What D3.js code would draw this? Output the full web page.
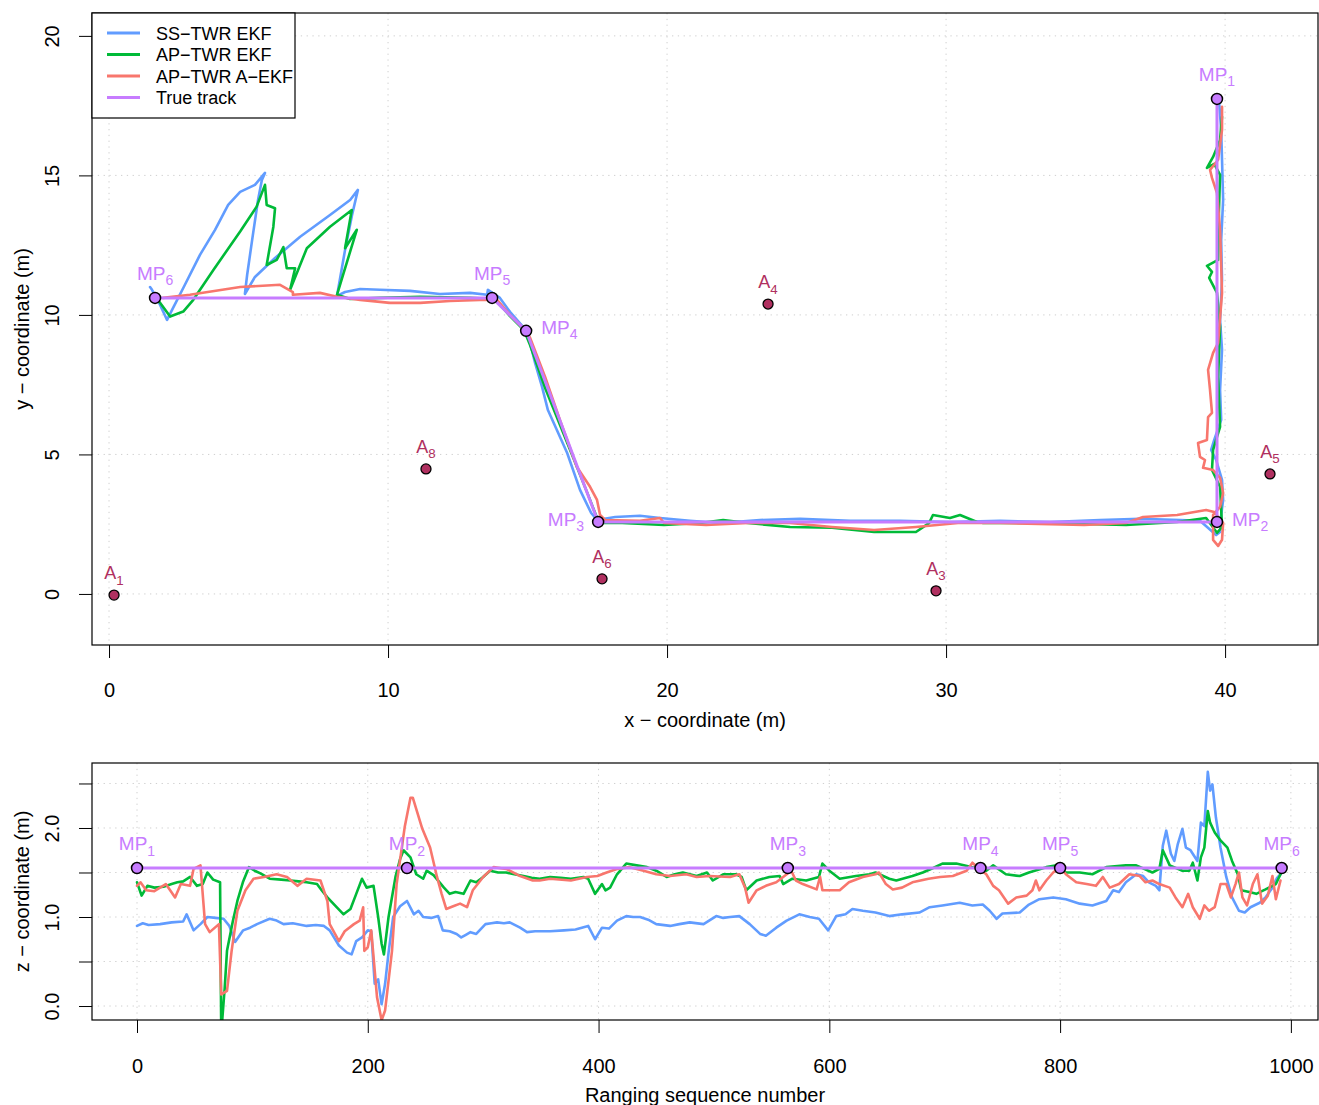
<!DOCTYPE html>
<html>
<head>
<meta charset="utf-8">
<script src="https://cdn.jsdelivr.net/npm/d3@7"></script>
<style>
  body { margin: 0; background: #fff; }
  svg { display: block; font-family: "Liberation Sans", Arial, Helvetica, sans-serif; }
</style>
</head>
<body>
<svg id="chart" width="1319" height="1105"></svg>
<script>
// series names and colours
const seriesNames = ["SS\u2212TWR EKF", "AP\u2212TWR EKF", "AP\u2212TWR A\u2212EKF", "True track"];
const seriesColors = ["#619CFF", "#00BA38", "#F8766D", "#C77CFF"];

// anchors (x, y in m)
const anchorNames = ["1", "3", "4", "5", "6", "8"];
const anchorX = [0.18, 29.64, 23.62, 41.61, 17.67, 11.36];
const anchorY = [-0.04, 0.11, 10.39, 4.30, 0.54, 4.48];

// measurement points of the true track
const mpNames = ["1", "2", "3", "4", "5", "6"];
const mpX = [39.71, 39.71, 17.53, 14.95, 13.73, 1.65];
const mpY = [17.74, 2.58, 2.58, 9.43, 10.61, 10.61];
const mpSeq = [0, 234, 564, 731, 800, 992];
const trueZ = 1.55;

// ticks
const xTicks = [0, 10, 20, 30, 40];
const yTicks = [0, 5, 10, 15, 20];
const seqTicks = [0, 200, 400, 600, 800, 1000];
const zTicks = [0, 0.5, 1, 1.5, 2, 2.5];
const zLabels = ["0.0", "", "1.0", "", "2.0", ""];

// estimated tracks in the x-y plane
const ssEkfXY = [
  [39.78,17.71],[39.86,16.63],[39.89,15.56],[39.93,14.12],[39.86,12.69],[39.89,11.25],[39.82,9.82],
  [39.89,8.75],[39.82,7.31],[39.86,6.24],[39.61,5.52],[39.50,5.16],[39.68,4.80],[39.89,4.09],
  [39.93,3.37],[39.86,2.83],[39.82,2.22],[39.68,2.11],[39.10,2.62],[38.39,2.65],[36.95,2.69],
  [35.52,2.65],[33.73,2.58],[31.94,2.62],[30.14,2.58],[28.35,2.62],[26.56,2.62],[24.77,2.69],
  [23.33,2.65],[21.90,2.54],[20.82,2.62],[19.75,2.72],[19.03,2.80],[18.14,2.76],[17.49,2.65],
  [17.28,2.90],[16.88,3.73],[16.42,5.05],[15.73,6.59],[15.52,7.42],[15.27,8.28],[15.02,9.28],
  [14.84,9.57],[14.37,10.11],[14.01,10.61],[13.58,10.90],[13.55,10.72],[12.94,10.79],[11.86,10.75],
  [10.79,10.86],[9.71,10.90],[9.00,10.93],[8.46,10.82],[8.17,10.68],[8.46,12.33],[8.71,13.58],
  [8.92,14.48],[8.64,14.12],[7.92,13.58],[6.85,12.80],[5.95,12.04],[5.23,11.36],[4.87,10.75],
  [4.95,11.43],[5.13,12.69],[5.34,14.12],[5.48,14.84],[5.59,15.09],[5.23,14.66],[4.70,14.41],
  [4.27,13.94],[3.80,13.05],[3.26,12.15],[2.72,11.08],[2.26,10.18],[2.08,9.82],[1.83,10.36],
  [1.54,10.90],[1.47,11.00]
];
const apEkfXY = [
  [39.89,17.10],[39.82,16.27],[39.57,15.66],[39.35,15.27],[39.61,15.41],[39.82,15.02],[39.78,13.76],
  [39.75,11.97],[39.35,11.76],[39.53,11.54],[39.43,11.33],[39.71,10.79],[39.82,9.57],[39.75,7.78],
  [39.82,5.99],[39.57,5.16],[39.53,4.44],[39.82,3.84],[39.89,2.40],[39.71,2.19],[39.32,2.72],
  [38.28,2.58],[36.45,2.47],[33.44,2.54],[31.33,2.54],[31.11,2.58],[30.50,2.83],[30.14,2.72],
  [29.53,2.83],[29.39,2.54],[28.92,2.22],[27.42,2.22],[25.91,2.37],[24.41,2.40],[22.90,2.54],
  [22.01,2.65],[21.18,2.54],[19.89,2.47],[18.39,2.54],[17.63,2.54],[17.46,2.80],[17.17,3.55],
  [16.70,4.73],[16.16,6.06],[15.63,7.38],[15.09,8.92],[14.87,9.46],[14.37,9.96],[13.84,10.57],
  [12.94,10.61],[11.15,10.65],[9.71,10.61],[8.64,10.57],[8.17,10.72],[8.88,13.05],[8.46,12.39],
  [8.70,13.76],[7.92,13.16],[7.09,12.39],[6.49,10.90],[6.67,11.67],[6.37,11.67],[6.25,12.43],
  [6.01,11.97],[5.65,11.79],[5.89,13.16],[5.95,13.82],[5.65,13.94],[5.59,14.66],[5.29,13.88],
  [4.70,12.99],[3.74,11.61],[3.02,10.54],[2.66,10.12],[2.19,9.94],[1.71,10.60]
];
const apAekfXY = [
  [39.89,17.46],[39.89,16.63],[39.75,15.56],[39.46,15.20],[39.53,14.91],[39.71,14.37],[39.82,13.05],
  [39.89,10.79],[39.75,9.00],[39.57,8.64],[39.39,8.03],[39.46,7.31],[39.53,6.49],[39.39,6.34],
  [39.35,5.52],[39.03,5.41],[39.10,4.91],[39.28,4.80],[39.21,4.52],[39.57,4.44],[39.82,4.16],
  [39.93,3.62],[39.82,3.12],[39.57,2.83],[39.57,1.94],[39.75,1.72],[39.89,1.94],[39.93,2.54],
  [39.61,2.94],[39.32,3.01],[38.28,2.83],[37.06,2.76],[36.45,2.54],[34.95,2.47],[31.94,2.54],
  [30.43,2.54],[28.92,2.40],[27.42,2.29],[25.91,2.40],[24.41,2.54],[22.90,2.54],[21.40,2.47],
  [19.89,2.54],[19.75,2.72],[19.03,2.62],[17.78,2.65],[17.60,2.83],[17.49,3.37],[17.24,3.84],
  [16.77,4.55],[16.16,6.24],[15.63,7.78],[15.09,9.18],[14.91,9.46],[14.37,10.00],[13.91,10.54],
  [13.30,10.54],[12.22,10.50],[11.15,10.43],[10.07,10.43],[9.00,10.54],[8.17,10.65],[7.56,10.79],
  [6.59,10.72],[6.59,10.82],[6.13,11.08],[4.70,11.00],[2.90,10.72],[1.94,10.61]
];

// z estimates against ranging sequence number
const ssEkfZ = [
  [0,0.90],[5,0.93],[10,0.91],[20,0.92],[30,0.94],[40,0.95],[43,1.03],[49,0.85],[55,0.92],[61,1.00],
  [68,0.99],[75,0.98],[80,0.90],[85,0.72],[92,0.85],[98,0.88],[104,0.92],[115,0.98],[121,0.96],[127,0.92],
  [135,0.93],[147,0.90],[155,0.91],[162,0.90],[167,0.85],[175,0.68],[182,0.60],[186,0.58],[190,0.73],
  [195,0.77],[200,0.85],[203,0.84],[206,0.25],[209,0.30],[212,0.02],[215,0.25],[218,0.60],[222,1.00],
  [228,1.12],[234,1.18],[240,1.03],[244,1.07],[248,1.00],[255,0.99],[261,1.01],[265,0.85],[271,0.84],
  [277,0.81],[281,0.77],[285,0.80],[289,0.83],[294,0.81],[302,0.92],[307,0.93],[312,0.94],[318,0.93],
  [323,0.94],[332,0.88],[338,0.83],[345,0.84],[358,0.84],[370,0.85],[380,0.86],[391,0.90],[397,0.75],
  [403,0.88],[409,0.87],[416,0.96],[424,1.01],[430,1.00],[436,1.00],[443,0.97],[450,0.92],[462,0.90],
  [470,0.92],[479,0.94],[491,0.92],[502,1.01],[508,0.99],[514,1.00],[522,1.01],[531,0.92],[540,0.81],
  [545,0.79],[554,0.88],[563,0.96],[574,1.03],[583,1.00],[591,0.98],[599,0.85],[606,1.01],[614,1.03],
  [620,1.09],[629,1.07],[640,1.05],[652,1.01],[663,1.03],[678,1.05],[687,1.11],[698,1.13],[713,1.16],
  [724,1.13],[733,1.14],[739,1.07],[745,0.98],[750,1.04],[765,1.05],[773,1.14],[782,1.20],[794,1.22],
  [805,1.20],[817,1.15],[828,1.13],[840,1.18],[846,1.30],[851,1.28],[857,1.39],[866,1.48],[872,1.46],
  [877,1.39],[883,1.35],[886,1.30],[889,1.80],[892,1.97],[896,1.71],[899,1.63],[902,1.82],[906,1.99],
  [909,1.78],[913,1.75],[919,1.63],[922,2.06],[925,2.02],[928,2.63],[930,2.42],[932,2.49],[935,2.12],
  [939,1.78],[944,1.45],[949,1.22],[955,1.07],[960,1.05],[965,1.11],[973,1.16],[978,1.22],[984,1.33],
  [988,1.44],[991,1.48]
];
const apEkfZ = [
  [0,1.39],[4,1.24],[9,1.35],[15,1.33],[23,1.34],[30,1.37],[35,1.39],[40,1.40],[46,1.45],[52,1.35],
  [57,1.37],[61,1.50],[66,1.42],[72,1.39],[73,-0.30],[76,0.20],[78,0.62],[83,0.95],[87,1.18],[92,1.40],
  [97,1.56],[102,1.52],[107,1.49],[115,1.43],[125,1.42],[133,1.41],[140,1.40],[147,1.39],[156,1.37],
  [160,1.30],[165,1.22],[173,1.11],[179,1.03],[185,1.09],[190,1.26],[195,1.43],[199,1.33],[205,1.35],
  [209,1.00],[212,0.70],[214,0.58],[218,1.00],[224,1.45],[228,1.65],[231,1.75],[237,1.67],[242,1.48],
  [248,1.43],[251,1.52],[257,1.47],[266,1.33],[271,1.26],[276,1.28],[280,1.27],[283,1.26],[289,1.41],
  [294,1.39],[300,1.45],[306,1.52],[313,1.50],[320,1.50],[327,1.48],[335,1.46],[342,1.44],[349,1.43],
  [358,1.45],[367,1.44],[376,1.43],[387,1.45],[391,1.43],[397,1.26],[403,1.37],[406,1.30],[410,1.33],
  [416,1.48],[424,1.60],[433,1.58],[442,1.56],[450,1.52],[459,1.45],[466,1.48],[473,1.50],[485,1.46],
  [494,1.50],[499,1.41],[508,1.48],[519,1.48],[524,1.45],[528,1.30],[537,1.41],[548,1.45],[557,1.46],
  [560,1.37],[568,1.43],[580,1.41],[591,1.45],[594,1.60],[600,1.52],[609,1.43],[623,1.46],[635,1.48],
  [640,1.50],[652,1.43],[658,1.41],[672,1.46],[681,1.50],[690,1.55],[698,1.60],[710,1.60],[724,1.56],
  [736,1.52],[742,1.58],[753,1.48],[765,1.46],[773,1.50],[788,1.56],[797,1.58],[805,1.50],[817,1.50],
  [828,1.48],[840,1.56],[857,1.58],[866,1.58],[880,1.50],[886,1.54],[889,1.75],[895,1.58],[906,1.52],
  [912,1.52],[915,1.61],[919,1.41],[922,1.67],[925,1.78],[928,2.19],[930,2.06],[934,1.95],[939,1.86],
  [945,1.78],[949,1.63],[954,1.48],[957,1.30],[964,1.28],[970,1.26],[978,1.31],[984,1.35],[987,1.37],
  [991,1.48]
];
const apAekfZ = [
  [0,1.35],[3,1.39],[8,1.30],[15,1.29],[25,1.37],[33,1.22],[38,1.37],[46,1.35],[49,1.54],[55,1.58],
  [59,0.92],[63,0.83],[71,0.92],[73,0.13],[78,0.17],[82,0.62],[87,1.07],[94,1.30],[101,1.43],[110,1.45],
  [121,1.48],[130,1.45],[139,1.35],[147,1.43],[159,1.41],[165,1.18],[167,0.92],[175,0.73],[180,0.84],
  [188,0.92],[193,0.96],[196,1.11],[197,0.62],[200,0.66],[203,0.85],[208,0.10],[212,-0.16],[215,-0.05],
  [221,0.62],[225,1.37],[232,2.01],[237,2.34],[239,2.34],[247,2.00],[254,1.78],[260,1.45],[264,1.26],
  [268,1.09],[274,1.12],[280,1.15],[286,1.11],[291,1.30],[300,1.45],[309,1.56],[320,1.54],[332,1.46],
  [343,1.41],[349,1.41],[358,1.43],[376,1.41],[390,1.45],[399,1.46],[407,1.50],[416,1.54],[427,1.56],
  [439,1.52],[450,1.48],[462,1.46],[476,1.48],[485,1.45],[496,1.46],[514,1.45],[522,1.48],[527,1.33],
  [530,1.16],[537,1.30],[545,1.35],[554,1.39],[560,1.45],[567,1.52],[571,1.41],[577,1.37],[589,1.31],
  [592,1.45],[594,1.30],[609,1.30],[617,1.39],[629,1.45],[640,1.48],[643,1.50],[649,1.37],[655,1.31],
  [663,1.33],[672,1.39],[686,1.43],[696,1.45],[707,1.46],[719,1.52],[724,1.61],[730,1.54],[736,1.48],
  [742,1.35],[747,1.30],[755,1.15],[762,1.22],[771,1.24],[776,1.30],[779,1.41],[782,1.30],[788,1.41],
  [794,1.50],[800,1.56],[805,1.48],[814,1.39],[823,1.37],[831,1.35],[837,1.45],[843,1.33],[851,1.37],
  [860,1.48],[869,1.46],[874,1.39],[880,1.41],[886,1.37],[895,1.33],[900,1.22],[906,1.11],[911,1.26],
  [915,1.11],[921,0.98],[925,1.13],[929,1.07],[934,1.11],[939,1.37],[944,1.37],[948,1.22],[952,1.37],
  [955,1.50],[958,1.22],[962,1.13],[967,1.37],[971,1.48],[975,1.15],[980,1.24],[984,1.46],[987,1.20],
  [991,1.41]
];

const svg = d3.select("#chart");
const axisFont = 20;
const legendFont = 18;

// ---------- top panel: x-y plane ----------
const boxTop = { left: 92, right: 1318, top: 13, bottom: 645 };
const x = d3.scaleLinear().domain([-0.61, 43.33]).range([boxTop.left, boxTop.right]);
const y = d3.scaleLinear().domain([-1.83, 20.82]).range([boxTop.bottom, boxTop.top]);

// ---------- bottom panel: z vs sequence ----------
const boxBot = { left: 92, right: 1318, top: 763, bottom: 1020 };
const xs = d3.scaleLinear().domain([-39, 1023.5]).range([boxBot.left, boxBot.right]);
const zs = d3.scaleLinear().domain([-0.157, 2.73]).range([boxBot.bottom, boxBot.top]);

const defs = svg.append("defs");
defs.append("clipPath").attr("id", "clipTop").append("rect")
  .attr("x", boxTop.left).attr("y", boxTop.top)
  .attr("width", boxTop.right - boxTop.left).attr("height", boxTop.bottom - boxTop.top);
defs.append("clipPath").attr("id", "clipBot").append("rect")
  .attr("x", boxBot.left).attr("y", boxBot.top)
  .attr("width", boxBot.right - boxBot.left).attr("height", boxBot.bottom - boxBot.top);

function grid(g, xsc, ysc, xt, yt, box) {
  const gg = g.append("g").attr("stroke", "#cfcfcf").attr("stroke-width", 1)
    .attr("stroke-dasharray", "1.3,4.5");
  gg.selectAll(".gx").data(xt).enter().append("line")
    .attr("x1", d => xsc(d)).attr("x2", d => xsc(d))
    .attr("y1", box.top).attr("y2", box.bottom);
  gg.selectAll(".gy").data(yt).enter().append("line")
    .attr("y1", d => ysc(d)).attr("y2", d => ysc(d))
    .attr("x1", box.left).attr("x2", box.right);
}

function axes(xsc, ysc, xt, yt, box, yfmt, pad) {
  const ax = svg.append("g").attr("transform", "translate(0," + box.bottom + ")")
    .call(d3.axisBottom(xsc).tickValues(xt).tickSize(13).tickPadding(pad).tickFormat(d3.format("d")));
  const ay = svg.append("g").attr("transform", "translate(" + box.left + ",0)")
    .call(d3.axisLeft(ysc).tickValues(yt).tickSize(13).tickPadding(0).tickFormat(yfmt));
  [ax, ay].forEach(a => {
    a.select(".domain").remove();
    a.selectAll(".tick line").attr("stroke", "#000");
    a.selectAll("text").attr("font-size", axisFont).attr("fill", "#000")
      .attr("font-family", "Liberation Sans, Arial, sans-serif");
  });
  // rotated y labels as in base graphics
  ay.selectAll(".tick text")
    .attr("x", null).attr("dy", null)
    .attr("text-anchor", "middle")
    .attr("transform", "translate(-33,0) rotate(-90)")
    .attr("y", 0);
}

grid(svg, x, y, xTicks, yTicks, boxTop);
grid(svg, xs, zs, seqTicks, zTicks, boxBot);

const line = d3.line().x(d => x(d[0])).y(d => y(d[1]));
const lineZ = d3.line().x(d => xs(d[0])).y(d => zs(d[1]));

// estimated tracks
const gTop = svg.append("g").attr("clip-path", "url(#clipTop)").attr("fill", "none")
  .attr("stroke-width", 2.6).attr("stroke-linejoin", "round").attr("stroke-linecap", "round");
[ssEkfXY, apEkfXY, apAekfXY].forEach((s, i) => {
  gTop.append("path").datum(s).attr("d", line).attr("stroke", seriesColors[i]);
});
gTop.append("path").datum(mpX.map((v, i) => [v, mpY[i]])).attr("d", line)
  .attr("stroke", seriesColors[3]).attr("stroke-width", 3);

const gBot = svg.append("g").attr("clip-path", "url(#clipBot)").attr("fill", "none")
  .attr("stroke-width", 2.6).attr("stroke-linejoin", "round").attr("stroke-linecap", "round");
[ssEkfZ, apEkfZ, apAekfZ].forEach((s, i) => {
  gBot.append("path").datum(s).attr("d", lineZ).attr("stroke", seriesColors[i]);
});
gBot.append("path").datum([[mpSeq[0], trueZ], [mpSeq[mpSeq.length - 1], trueZ]]).attr("d", lineZ)
  .attr("stroke", seriesColors[3]).attr("stroke-width", 3);

// labels with subscripts
function subLabel(g, px, py, base, sub, color, anchor, fs) {
  const t = g.append("text").attr("x", px).attr("y", py).attr("fill", color)
    .attr("font-size", fs).attr("text-anchor", anchor);
  t.append("tspan").text(base);
  t.append("tspan").attr("dy", 5.5).attr("font-size", fs * 0.74).text(sub);
}

// anchors
const anchorColor = "#B03060";
svg.append("g").selectAll("circle").data(anchorNames).enter().append("circle")
  .attr("cx", (d, i) => x(anchorX[i])).attr("cy", (d, i) => y(anchorY[i])).attr("r", 5)
  .attr("fill", anchorColor).attr("stroke", "#000").attr("stroke-width", 1.3);
anchorNames.forEach((n, i) => {
  subLabel(svg, x(anchorX[i]), y(anchorY[i]) - 16, "A", n, anchorColor, "middle", 18);
});

// measurement points, top panel
const mpPlace = {
  "1": [0, -18, "middle"], "2": [15, 4, "start"], "3": [-14, 4, "end"],
  "4": [15, 3, "start"], "5": [0, -18, "middle"], "6": [0, -18, "middle"]
};
svg.append("g").selectAll("circle").data(mpNames).enter().append("circle")
  .attr("cx", (d, i) => x(mpX[i])).attr("cy", (d, i) => y(mpY[i])).attr("r", 5.5)
  .attr("fill", seriesColors[3]).attr("stroke", "#000").attr("stroke-width", 1.5);
mpNames.forEach((n, i) => {
  const p = mpPlace[n];
  subLabel(svg, x(mpX[i]) + p[0], y(mpY[i]) + p[1], "MP", n, seriesColors[3], p[2], 19);
});

// measurement points, bottom panel
svg.append("g").selectAll("circle").data(mpNames).enter().append("circle")
  .attr("cx", (d, i) => xs(mpSeq[i])).attr("cy", zs(trueZ)).attr("r", 5.5)
  .attr("fill", seriesColors[3]).attr("stroke", "#000").attr("stroke-width", 1.5);
mpNames.forEach((n, i) => {
  subLabel(svg, xs(mpSeq[i]), zs(trueZ) - 18, "MP", n, seriesColors[3], "middle", 19);
});

// frames
[boxTop, boxBot].forEach(b => {
  svg.append("rect").attr("x", b.left).attr("y", b.top)
    .attr("width", b.right - b.left).attr("height", b.bottom - b.top)
    .attr("fill", "none").attr("stroke", "#000").attr("stroke-width", 1.2);
});

axes(x, y, xTicks, yTicks, boxTop, d3.format("d"), 25);
axes(xs, zs, seqTicks, zTicks, boxBot, (d, i) => zLabels[i], 26);

// axis titles
function title(tx, ty, txt, rot) {
  svg.append("text").attr("x", tx).attr("y", ty).attr("font-size", axisFont)
    .attr("text-anchor", "middle").attr("fill", "#000")
    .attr("transform", rot ? "rotate(-90," + tx + "," + ty + ")" : null)
    .text(txt);
}
title((boxTop.left + boxTop.right) / 2, 727, "x \u2212 coordinate (m)");
title(29, (boxTop.top + boxTop.bottom) / 2, "y \u2212 coordinate (m)", true);
title((boxBot.left + boxBot.right) / 2, 1102, "Ranging sequence number");
title(29, (boxBot.top + boxBot.bottom) / 2, "z \u2212 coordinate (m)", true);

// legend
const leg = svg.append("g");
leg.append("rect").attr("x", boxTop.left).attr("y", boxTop.top).attr("width", 203).attr("height", 105)
  .attr("fill", "#fff").attr("stroke", "#000").attr("stroke-width", 1.2);
seriesNames.forEach((n, i) => {
  const ly = boxTop.top + 20 + i * 21.5;
  leg.append("line").attr("x1", 107).attr("x2", 140).attr("y1", ly).attr("y2", ly)
    .attr("stroke", seriesColors[i]).attr("stroke-width", 3);
  leg.append("text").attr("x", 156).attr("y", ly + 6.5).attr("font-size", legendFont)
    .attr("fill", "#000").text(n);
});
</script>
</body>
</html>
